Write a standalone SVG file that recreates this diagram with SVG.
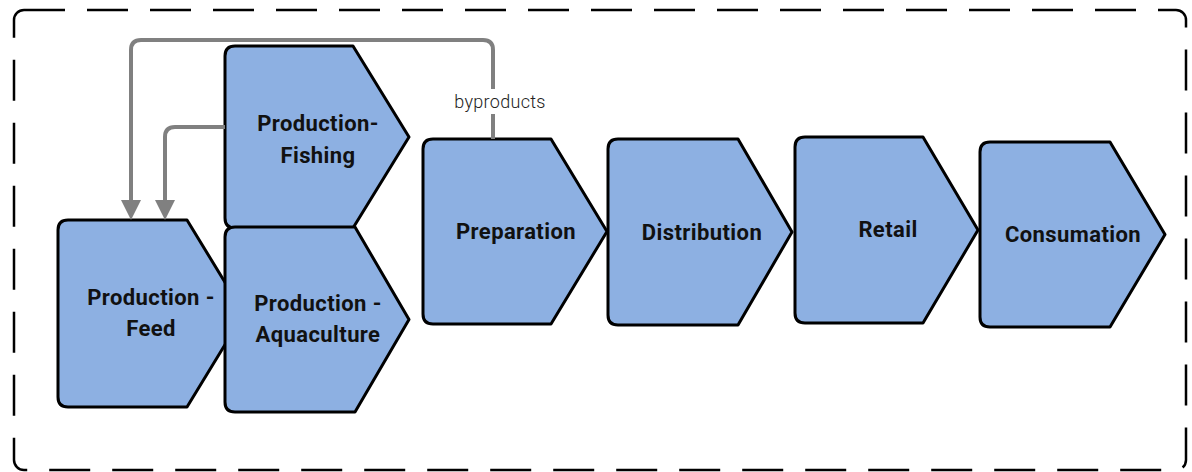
<svg xmlns="http://www.w3.org/2000/svg" width="1192" height="472" viewBox="0 0 1192 472">
<style>
.node{fill:#8DB0E2;stroke:#000;stroke-width:3;stroke-linejoin:round}
.lbl{font-family:Roboto,"Liberation Sans",sans-serif;font-weight:bold;font-size:22px;fill:#111;text-anchor:middle;letter-spacing:0.4px}
.conn{fill:none;stroke:#808080;stroke-width:4}
.small{font-family:Roboto,"Liberation Sans",sans-serif;font-size:18px;font-weight:300;fill:#222;text-anchor:middle;letter-spacing:0.3px}
</style>
<defs>
<marker id="arr" viewBox="0 0 20 20" refX="0" refY="10" markerWidth="20" markerHeight="20" markerUnits="userSpaceOnUse" orient="auto">
<path d="M0,0 L20,10 L0,20 Z" fill="#808080"/>
</marker>
</defs>
<rect x="14" y="10" width="1172" height="460" rx="10" fill="none" stroke="#000" stroke-width="2.5" stroke-dasharray="41 22"/>
<g id="feed">
<path class="node" d="M68,220 L187,220 L244,313.5 L187,407 L68,407 Q58,407 58,397 L58,230 Q58,220 68,220 Z"/>
<text class="lbl" x="151" y="305">Production -</text>
<text class="lbl" x="151" y="336">Feed</text>
</g>
<g id="fishing">
<path class="node" d="M235,46 L353,46 L409,137 L353,228 L235,228 Q225,228 225,218 L225,56 Q225,46 235,46 Z"/>
<text class="lbl" x="318" y="131">Production-</text>
<text class="lbl" x="318" y="163">Fishing</text>
</g>
<g id="aquaculture">
<path class="node" d="M235,227 L355,227 L409,319.5 L355,412 L235,412 Q225,412 225,402 L225,237 Q225,227 235,227 Z"/>
<text class="lbl" x="318" y="311">Production -</text>
<text class="lbl" x="318" y="342">Aquaculture</text>
</g>
<g id="preparation">
<path class="node" d="M433,139 L551,139 L607,231.5 L551,324 L433,324 Q423,324 423,314 L423,149 Q423,139 433,139 Z"/>
<text class="lbl" x="516" y="239">Preparation</text>
</g>
<g id="distribution">
<path class="node" d="M618,139 L738,139 L792,232 L738,325 L618,325 Q608,325 608,315 L608,149 Q608,139 618,139 Z"/>
<text class="lbl" x="702" y="240">Distribution</text>
</g>
<g id="retail">
<path class="node" d="M805,137 L923,137 L978,230 L923,323 L805,323 Q795,323 795,313 L795,147 Q795,137 805,137 Z"/>
<text class="lbl" x="888" y="237">Retail</text>
</g>
<g id="consumation">
<path class="node" d="M990,142 L1110,142 L1165,234.5 L1110,327 L990,327 Q980,327 980,317 L980,152 Q980,142 990,142 Z"/>
<text class="lbl" x="1073" y="242">Consumation</text>
</g>
<g id="connectors">
<path class="conn" d="M493,139 L493,50 Q493,40 483,40 L141,40 Q131,40 131,50 L131,200" marker-end="url(#arr)"/>
<path class="conn" d="M225,127 L175,127 Q165,127 165,137 L165,200" marker-end="url(#arr)"/>
<rect x="448" y="89" width="104" height="25" fill="#fff"/>
<text class="small" x="500" y="108">byproducts</text>
</g>
</svg>
